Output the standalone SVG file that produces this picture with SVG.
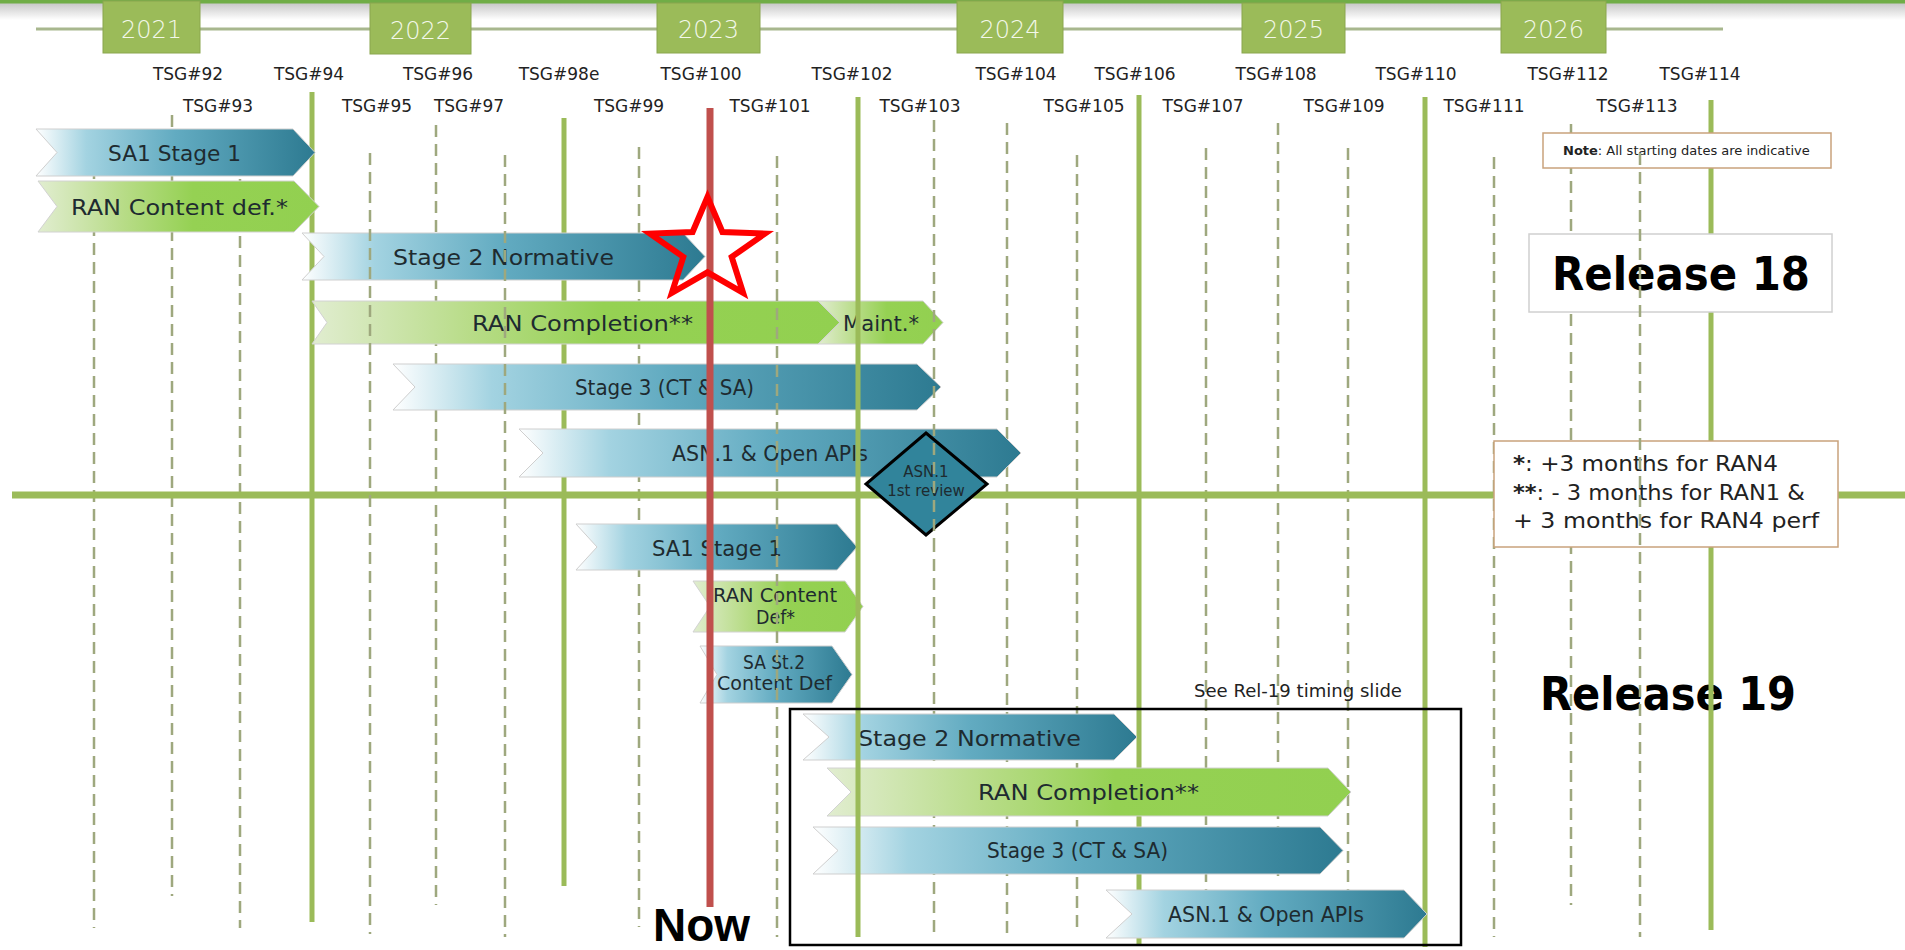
<svg xmlns="http://www.w3.org/2000/svg" width="1905" height="950" viewBox="0 0 1905 950">
<defs>
<linearGradient id="gBlue" x1="0" y1="0" x2="1" y2="0">
<stop offset="0" stop-color="#ffffff"/>
<stop offset="0.18" stop-color="#a3d3e1"/>
<stop offset="0.5" stop-color="#62abc1"/>
<stop offset="1" stop-color="#2d7a91"/>
</linearGradient>
<linearGradient id="gGreen" x1="0" y1="0" x2="1" y2="0">
<stop offset="0" stop-color="#e1edd0"/>
<stop offset="0.3" stop-color="#b8dc88"/>
<stop offset="0.55" stop-color="#95d153"/>
<stop offset="1" stop-color="#92d050"/>
</linearGradient>
<linearGradient id="gShadow" x1="0" y1="0" x2="0" y2="1">
<stop offset="0" stop-color="#bdbdbd"/>
<stop offset="1" stop-color="#ffffff"/>
</linearGradient>
<style>
.yr{fill:#9bbb59;stroke:#8aa64f;stroke-width:1}
.yt{font-family:"DejaVu Sans","Liberation Sans",sans-serif;font-size:24px;font-weight:300;fill:#f3f8ea;text-anchor:middle}
.tsg{font-family:"DejaVu Sans","Liberation Sans",sans-serif;font-size:17px;fill:#222;text-anchor:middle}
.d{stroke:#9ea87e;stroke-width:2.5;stroke-dasharray:12 7;fill:none}
.s{stroke:#9bbb59;stroke-width:5;fill:none}
.red{stroke:#c0504d;stroke-width:7;fill:none}
.bb{fill:url(#gBlue);stroke:#cfcfcf;stroke-width:1}
.bg{fill:url(#gGreen);stroke:#d2d2d2;stroke-width:1}
.bt{font-family:"DejaVu Sans","Liberation Sans",sans-serif;font-size:22px;fill:#1e2b30;text-anchor:middle}
.st{font-family:"DejaVu Sans","Liberation Sans",sans-serif;font-size:19px;fill:#1e2b30;text-anchor:middle}
.box{fill:#ffffff;stroke:#c9a27c;stroke-width:1.5}
.rel{font-family:"DejaVu Sans","Liberation Sans",sans-serif;font-size:46px;font-weight:bold;fill:#000;text-anchor:middle}
.fn{font-family:"DejaVu Sans","Liberation Sans",sans-serif;font-size:22px;fill:#222}
</style>
</defs>
<rect x="0" y="0" width="1905" height="950" fill="#ffffff"/>
<g id="header">
<rect x="0" y="0" width="1905" height="20" fill="url(#gShadow)"/>
<rect x="0" y="0" width="1905" height="3.5" fill="#70ad47"/>
<line x1="36" y1="29" x2="1723" y2="29" stroke="#a8b78e" stroke-width="3"/>
</g>
<g id="years">
<g id="y2021"><rect class="yr" x="103" y="1" width="97" height="52"/><text class="yt" x="151.5" y="38">2021</text></g>
<g id="y2022"><rect class="yr" x="370" y="3" width="101" height="51"/><text class="yt" x="420.5" y="39">2022</text></g>
<g id="y2023"><rect class="yr" x="657" y="3" width="103" height="50"/><text class="yt" x="708.5" y="38">2023</text></g>
<g id="y2024"><rect class="yr" x="957" y="1" width="106" height="52"/><text class="yt" x="1010" y="38">2024</text></g>
<g id="y2025"><rect class="yr" x="1242" y="3" width="103" height="50"/><text class="yt" x="1293.5" y="38">2025</text></g>
<g id="y2026"><rect class="yr" x="1501" y="1" width="105" height="52"/><text class="yt" x="1553.5" y="38">2026</text></g>
</g>
<g id="tsg-labels">
<text class="tsg" x="188" y="80">TSG#92</text>
<text class="tsg" x="309" y="80">TSG#94</text>
<text class="tsg" x="438" y="80">TSG#96</text>
<text class="tsg" x="559" y="80">TSG#98e</text>
<text class="tsg" x="701" y="80">TSG#100</text>
<text class="tsg" x="852" y="80">TSG#102</text>
<text class="tsg" x="1016" y="80">TSG#104</text>
<text class="tsg" x="1135" y="80">TSG#106</text>
<text class="tsg" x="1276" y="80">TSG#108</text>
<text class="tsg" x="1416" y="80">TSG#110</text>
<text class="tsg" x="1568" y="80">TSG#112</text>
<text class="tsg" x="1700" y="80">TSG#114</text>
<text class="tsg" x="218" y="112">TSG#93</text>
<text class="tsg" x="377" y="112">TSG#95</text>
<text class="tsg" x="469" y="112">TSG#97</text>
<text class="tsg" x="629" y="112">TSG#99</text>
<text class="tsg" x="770" y="112">TSG#101</text>
<text class="tsg" x="920" y="112">TSG#103</text>
<text class="tsg" x="1084" y="112">TSG#105</text>
<text class="tsg" x="1203" y="112">TSG#107</text>
<text class="tsg" x="1344" y="112">TSG#109</text>
<text class="tsg" x="1484" y="112">TSG#111</text>
<text class="tsg" x="1637" y="112">TSG#113</text>
</g>
<g id="grid-under">
<line class="d" x1="94" y1="148" x2="94" y2="928"/>
<line class="d" x1="172" y1="115" x2="172" y2="896"/>
<line class="d" x1="240" y1="160" x2="240" y2="928"/>
<line class="s" x1="312" y1="92" x2="312" y2="922"/>
<line class="d" x1="436" y1="125" x2="436" y2="905"/>
<line class="s" x1="564" y1="118" x2="564" y2="886" stroke="#a7c95e"/>
<line class="d" x1="639" y1="147" x2="639" y2="927"/>
<line class="d" x1="934" y1="540" x2="934" y2="937"/>
<line class="d" x1="1007" y1="123" x2="1007" y2="937"/>
<line class="d" x1="1077" y1="155" x2="1077" y2="933"/>
<line class="s" x1="1139" y1="95" x2="1139" y2="945"/>
<line class="d" x1="1206" y1="148" x2="1206" y2="905"/>
<line class="d" x1="1278" y1="123" x2="1278" y2="883"/>
<line class="d" x1="1348" y1="148" x2="1348" y2="905"/>
<line class="s" x1="1425" y1="97" x2="1425" y2="947"/>
</g>
<g id="separator">
<line x1="12" y1="495" x2="1905" y2="495" stroke="#9bbb59" stroke-width="7"/>
</g>
<g id="rel18-bars">
<g id="r18-sa1"><path class="bb" d="M36,129 L293,129 L315,152.5 L293,176 L36,176 L57,152.5 Z"/><text class="bt" x="174.5" y="161" textLength="133" lengthAdjust="spacingAndGlyphs">SA1 Stage 1</text></g>
<g id="r18-rancontent"><path class="bg" d="M38,181 L294,181 L319,206.5 L294,232 L38,232 L57,206.5 Z"/><text class="bt" x="179.5" y="215" textLength="217" lengthAdjust="spacingAndGlyphs">RAN Content def.*</text></g>
<g id="r18-stage2"><path class="bb" d="M302,233 L683,233 L705,256.5 L683,280 L302,280 L324,256.5 Z"/><text class="bt" x="503.5" y="265" textLength="221" lengthAdjust="spacingAndGlyphs">Stage 2 Normative</text></g>
<g id="r18-rancompletion"><path class="bg" d="M312,301 L818,301 L840,322.5 L818,344 L312,344 L327,322.5 Z"/><text class="bt" x="582.5" y="331" textLength="221" lengthAdjust="spacingAndGlyphs">RAN Completion**</text></g>
<g id="r18-maint"><path class="bg" d="M818,301 L923,301 L943,322.5 L923,344 L818,344 L840,322.5 Z"/><text class="bt" x="881" y="331" textLength="76" lengthAdjust="spacingAndGlyphs">Maint.*</text></g>
<g id="r18-stage3"><path class="bb" d="M393,364 L917,364 L941,387 L917,410 L393,410 L415,387 Z"/><text class="bt" x="664.5" y="395" textLength="179" lengthAdjust="spacingAndGlyphs">Stage 3 (CT &amp; SA)</text></g>
<g id="r18-asn1"><path class="bb" d="M519,429 L997,429 L1021,453 L997,477 L519,477 L543,453 Z"/><text class="bt" x="770" y="461" textLength="196" lengthAdjust="spacingAndGlyphs">ASN.1 &amp; Open APIs</text></g>
<g id="asn1-review"><polygon points="926,433 987,484 926,535 866,484" fill="#31849b" stroke="#000" stroke-width="3"/><text class="st" x="926" y="477" style="font-size:15px">ASN.1</text><text class="st" x="926" y="496" style="font-size:15px">1st review</text></g>
</g>
<g id="rel19-bars">
<g id="r19-sa1"><path class="bb" d="M576,524 L837,524 L857,547 L837,570 L576,570 L597,547 Z"/><text class="bt" x="717" y="556" textLength="130" lengthAdjust="spacingAndGlyphs">SA1 Stage 1</text></g>
<g id="r19-rancontent"><path class="bg" d="M693,581 L845,581 L863,606.5 L845,632 L693,632 L710,606.5 Z"/><text class="st" x="775" y="602" textLength="124" lengthAdjust="spacingAndGlyphs">RAN Content</text><text class="st" x="775.5" y="624" textLength="39" lengthAdjust="spacingAndGlyphs">Def*</text></g>
<g id="r19-sast2"><path class="bb" d="M700,646 L832,646 L852,674.5 L832,703 L700,703 L717,674.5 Z"/><text class="st" x="774" y="669" textLength="62" lengthAdjust="spacingAndGlyphs">SA St.2</text><text class="st" x="774.5" y="690" textLength="115" lengthAdjust="spacingAndGlyphs">Content Def</text></g>
<g id="r19-stage2"><path class="bb" d="M803,714 L1114,714 L1137,737 L1114,760 L803,760 L829,737 Z"/><text class="bt" x="969.5" y="746" textLength="223" lengthAdjust="spacingAndGlyphs">Stage 2 Normative</text></g>
<g id="r19-rancompletion"><path class="bg" d="M827,768 L1328,768 L1351,792 L1328,816 L827,816 L851,792 Z"/><text class="bt" x="1088.5" y="800" textLength="221" lengthAdjust="spacingAndGlyphs">RAN Completion**</text></g>
<g id="r19-stage3"><path class="bb" d="M813,827 L1320,827 L1343,850.5 L1320,874 L813,874 L838,850.5 Z"/><text class="bt" x="1077.5" y="858" textLength="181" lengthAdjust="spacingAndGlyphs">Stage 3 (CT &amp; SA)</text></g>
<g id="r19-asn1"><path class="bb" d="M1106,890 L1404,890 L1427,914 L1404,938 L1106,938 L1132,914 Z"/><text class="bt" x="1266" y="922" textLength="196" lengthAdjust="spacingAndGlyphs">ASN.1 &amp; Open APIs</text></g>
</g>
<g id="labels">
<text x="1668" y="710" class="rel" textLength="256" lengthAdjust="spacingAndGlyphs">Release 19</text>
<text x="1298" y="697" font-family="DejaVu Sans, Liberation Sans, sans-serif" font-size="18" fill="#222" text-anchor="middle" textLength="208" lengthAdjust="spacingAndGlyphs">See Rel-19 timing slide</text>
</g>
<g id="grid-over">
<line class="d" x1="370" y1="153" x2="370" y2="934"/>
<line class="d" x1="505" y1="155" x2="505" y2="937"/>
<line class="d" x1="777" y1="156" x2="777" y2="937"/>
<line class="s" x1="858" y1="97" x2="858" y2="937"/>
<line class="d" x1="934" y1="120" x2="934" y2="540"/>
<line class="d" x1="1494" y1="157" x2="1494" y2="937"/>
<line class="d" x1="1571" y1="124" x2="1571" y2="905"/>
<line class="s" x1="1711" y1="100" x2="1711" y2="930"/>
<line class="red" x1="710" y1="108" x2="710" y2="907"/>
</g>
<g id="star">
<polygon points="707.5,197 722.4,232 765,233.6 731.7,256.9 743.1,292.9 707.5,272.3 671.9,292.9 683.3,256.9 650,233.6 692.6,232" fill="none" stroke="#ff0000" stroke-width="6"/>
</g>
<g id="note">
<rect class="box" x="1543" y="133" width="288" height="35"/>
<text x="1563" y="155" font-family="DejaVu Sans, Liberation Sans, sans-serif" font-size="13" fill="#222"><tspan font-weight="bold">Note</tspan>: All starting dates are indicative</text>
</g>
<g id="release18">
<rect x="1529" y="234" width="303" height="78" fill="#ffffff" stroke="#d0d0d0" stroke-width="1.5"/>
<text x="1681" y="290" class="rel" textLength="258" lengthAdjust="spacingAndGlyphs">Release 18</text>
</g>
<g id="footnote">
<rect class="box" x="1494" y="441" width="344" height="106"/>
<text class="fn" x="1513" y="471" textLength="265" lengthAdjust="spacingAndGlyphs"><tspan font-weight="bold">*</tspan>: +3 months for RAN4</text>
<text class="fn" x="1513" y="500" textLength="292" lengthAdjust="spacingAndGlyphs"><tspan font-weight="bold">**</tspan>: - 3 months for RAN1 &amp;</text>
<text class="fn" x="1513" y="528" textLength="306" lengthAdjust="spacingAndGlyphs">+ 3 months for RAN4 perf</text>
</g>
<g id="grid-top">
<line class="d" x1="1640" y1="153" x2="1640" y2="937"/>
</g>
<g id="rel19-box">
<rect x="790" y="709" width="671" height="236" fill="none" stroke="#000" stroke-width="2.5"/>
</g>
<g id="now">
<text x="701.5" y="941" font-family="Liberation Sans, Arial, sans-serif" font-size="47" font-weight="bold" fill="#000" text-anchor="middle" textLength="97" lengthAdjust="spacingAndGlyphs">Now</text>
</g>
</svg>
